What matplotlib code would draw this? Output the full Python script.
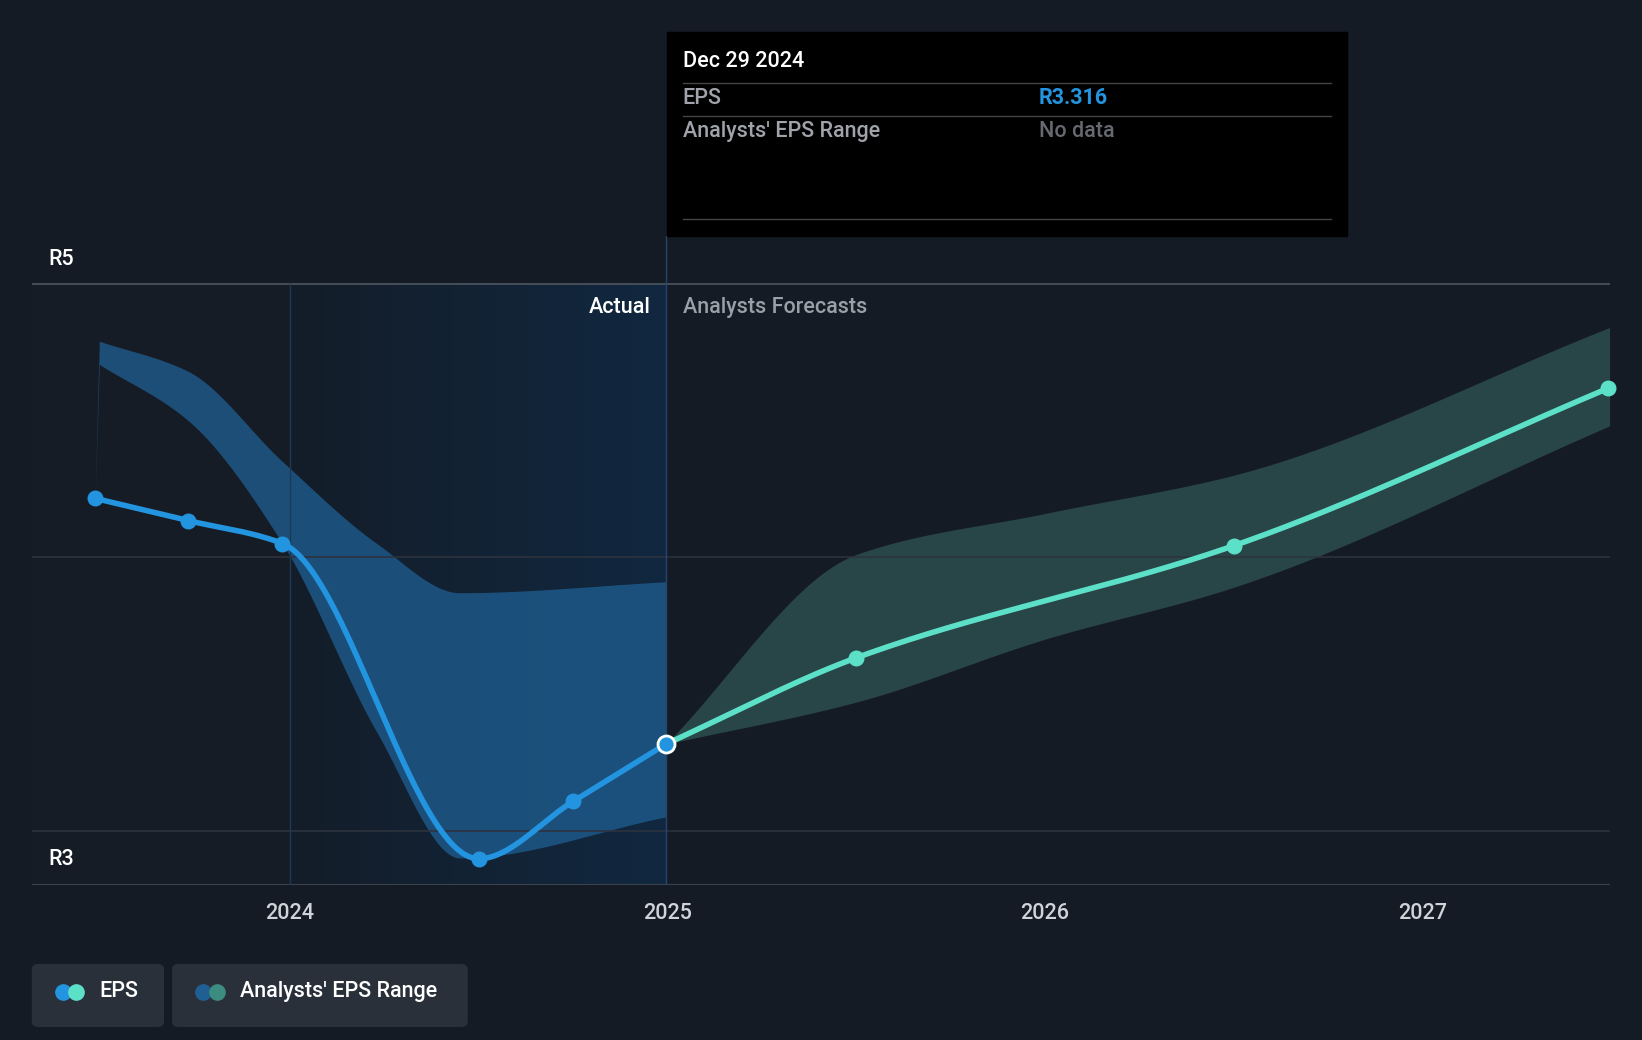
import numpy as np
import matplotlib
matplotlib.use("Agg")
import matplotlib.pyplot as plt
from matplotlib.patches import Rectangle, FancyBboxPatch
from matplotlib.colors import LinearSegmentedColormap

plt.rcParams["font.family"] = "Roboto"

# ---- data ----
act_x = [2023.484, 2023.73, 2023.98, 2024.5, 2024.75, 2024.995]
act_y = [4.215, 4.134, 4.05, 2.897, 3.107, 3.316]
fc_x = [2024.995, 2025.5, 2026.5, 2027.49]
fc_y = [3.316, 3.632, 4.042, 4.617]
band_a_x = [2023.495, 2023.73, 2023.98, 2024.23, 2024.45, 2024.995]
band_a_hi = [4.79, 4.68, 4.35, 4.05, 3.87, 3.91]
band_a_lo = [4.705, 4.5, 4.05, 3.36, 2.90, 3.05]
band_f_x = [2024.995, 2025.5, 2026.0, 2026.5, 2027.495]
band_f_hi = [3.316, 4.01, 4.16, 4.30, 4.84]
band_f_lo = [3.316, 3.47, 3.70, 3.89, 4.48]
yticks = [3, 4, 5]
xticks = [2024, 2025, 2026, 2027]

def smooth(x, y, n=60):
    # monotone cubic (Fritsch-Carlson) for display smoothing
    x = np.asarray(x, float); y = np.asarray(y, float)
    h = np.diff(x); d = np.diff(y) / h
    m = np.zeros_like(y)
    m[0], m[-1] = d[0], d[-1]
    for i in range(1, len(y)-1):
        if d[i-1]*d[i] <= 0:
            m[i] = 0
        else:
            w1 = 2*h[i] + h[i-1]; w2 = h[i] + 2*h[i-1]
            m[i] = (w1 + w2) / (w1/d[i-1] + w2/d[i])
    xs, ys = [], []
    for i in range(len(h)):
        t = np.linspace(0, 1, n)
        h00 = 2*t**3 - 3*t**2 + 1; h10 = t**3 - 2*t**2 + t
        h01 = -2*t**3 + 3*t**2; h11 = t**3 - t**2
        xs.append(x[i] + t*h[i])
        ys.append(h00*y[i] + h10*h[i]*m[i] + h01*y[i+1] + h11*h[i]*m[i+1])
    return np.concatenate(xs), np.concatenate(ys)

W, H = 1568, 993
FS = 15.5
fig = plt.figure(figsize=(16.42, 10.40), dpi=100)
fig.patch.set_facecolor("#151b24")
ax = fig.add_axes([31/W, 1-845/H, (1537-31)/W, (845-225)/H])
ax.set_facecolor("#151b24")
ax.set_xlim(2023.318, 2027.495)
ax.set_ylim(2.801, 5.176)
for s in ax.spines.values():
    s.set_visible(False)
ax.axhline(2.801, color="#3a4250", lw=1.5)
for v in yticks:
    ax.axhline(v, color="#2c333e", lw=1.2)
ax.axhline(5, color="#4a525e", lw=1.2)

ax.add_patch(Rectangle((2023.318, 2.801), 2024.0-2023.318, 5-2.801, color="#161c26", zorder=0))
grad = np.linspace(0, 1, 256)[None, :]
cm = LinearSegmentedColormap.from_list("g", ["#141d29", "#112840"])
ax.imshow(grad, cmap=cm, extent=[2024.0, 2024.995, 2.801, 5.0], aspect="auto", zorder=0)
ax.axvline(2024.0, ymax=(5-2.801)/(5.176-2.801), color="#1d3a55", lw=1)
ax.axvline(2024.995, color="#24466a", lw=1)

bx, bh = smooth(band_a_x, band_a_hi)
_, bl = smooth(band_a_x, band_a_lo)
ax.fill_between(bx, bl, bh, color="#1f5f93", alpha=0.75, lw=0, zorder=1)
ax.fill_between([2023.484, 2023.495], [4.215, 4.705], [4.215, 4.79], color="#1f5f93", alpha=0.75, lw=0)
fx, fh = smooth(band_f_x, band_f_hi)
_, fl = smooth(band_f_x, band_f_lo)
ax.fill_between(fx, fl, fh, color="#2d5050", alpha=0.8, lw=0, zorder=1)

sx, sy = smooth(act_x, act_y)
ax.plot(sx, sy, color="#2394df", lw=4, zorder=3, solid_capstyle="round")
ax.scatter(act_x[:-1], act_y[:-1], s=110, color="#2394df", zorder=4)
gx, gy = smooth(fc_x, fc_y)
ax.plot(gx, gy, color="#5de0c8", lw=4, zorder=3, solid_capstyle="round")
ax.scatter(fc_x[1:], fc_y[1:], s=110, color="#5de0c8", zorder=4, clip_on=False)
ax.scatter([act_x[-1]], [act_y[-1]], s=150, color="#2394df", edgecolor="white", lw=2, zorder=5)

ax.set_xticks(xticks)
ax.set_xticklabels([str(t) for t in xticks], color="#d0d4da", fontsize=FS, weight="medium")
ax.tick_params(axis="x", length=0, pad=13)
ax.set_yticks([])

fig.text(46/W, 1-248/H, "R5", color="white", fontsize=FS, va="center", weight="medium")
fig.text(46/W, 1-821/H, "R3", color="white", fontsize=FS, va="center", weight="medium")
fig.text(621/W, 1-294/H, "Actual", color="white", fontsize=FS, va="center", ha="right", weight="medium")
fig.text(652/W, 1-294/H, "Analysts Forecasts", color="#9aa0a8", fontsize=FS, va="center", weight="medium")

# tooltip
fig.patches.append(Rectangle((637/W, 1-225/H), (1286-637)/W, (225-31)/H, transform=fig.transFigure, color="black", zorder=10))
for yy in (79, 111, 209):
    fig.add_artist(plt.Line2D([652/W, 1271/W], [1-yy/H]*2, color="#444", lw=1, zorder=11))
fig.text(652/W, 1-59/H, "Dec 29 2024", color="white", fontsize=FS, va="center", weight="medium", zorder=12)
fig.text(652/W, 1-94/H, "EPS", color="#a0a4aa", fontsize=FS, va="center", zorder=12, weight="medium")
fig.text(992/W, 1-94/H, "R3.316", color="#2394df", fontsize=FS, va="center", weight="bold", zorder=12)
fig.text(652/W, 1-126/H, "Analysts' EPS Range", color="#a0a4aa", fontsize=FS, va="center", zorder=12, weight="medium")
fig.text(992/W, 1-126/H, "No data", color="#666a70", fontsize=FS, va="center", zorder=12, weight="medium")

# legend
for x0, x1, label, c1, c2 in [(31, 156, "EPS", "#2394df", "#5de0c8"), (165, 446, "Analysts' EPS Range", "#1f5f93", "#3d8c80")]:
    fig.patches.append(FancyBboxPatch((x0/W, 1-980/H), (x1-x0)/W, (980-921)/H, boxstyle="round,pad=0,rounding_size=0.004",
                                      transform=fig.transFigure, color="#2a303a"))
    fig.add_artist(plt.Line2D([(x0+29)/W], [1-947/H], marker="o", ms=11, color=c1, lw=0))
    fig.add_artist(plt.Line2D([(x0+42)/W], [1-947/H], marker="o", ms=11, color=c2, lw=0))
    fig.text((x0+64)/W, 1-947/H, label, color="white", fontsize=FS, va="center", weight="medium")

fig.savefig("out.png", dpi=100, facecolor=fig.get_facecolor())
